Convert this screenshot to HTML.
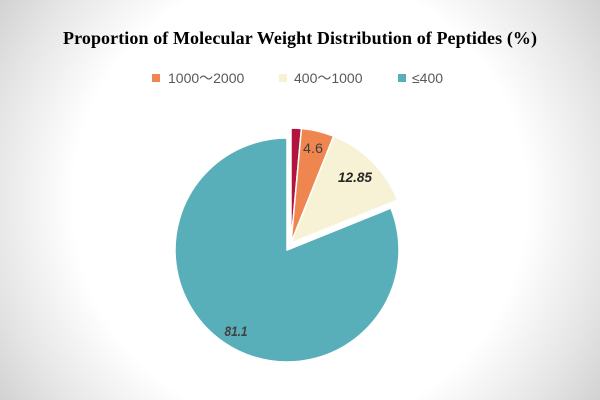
<!DOCTYPE html>
<html>
<head>
<meta charset="utf-8">
<style>
  html, body { margin: 0; padding: 0; }
  body {
    width: 600px; height: 400px; overflow: hidden;
    background: radial-gradient(circle farthest-corner at 50% 50%, #ffffff 0%, #ffffff 63%, #e6e6e6 85%, #d2d2d2 100%);
  }
  svg { display: block; }
</style>
</head>
<body>
<svg width="600" height="400" viewBox="0 0 600 400" xmlns="http://www.w3.org/2000/svg">
  <!-- Title -->
  <text x="300" y="44" text-anchor="middle" font-family="'Liberation Serif', 'Times New Roman', serif" font-weight="bold" font-size="18" fill="#000" textLength="474" lengthAdjust="spacing">Proportion of Molecular Weight Distribution of Peptides (%)</text>

  <!-- Legend -->
  <g font-family="'Liberation Sans', 'Noto Sans CJK SC', sans-serif" font-size="14" fill="#595959">
    <rect x="152" y="74" width="8" height="8" fill="#F0864F"/>
    <text x="168" y="83">1000～2000</text>
    <rect x="279" y="74" width="8" height="8" fill="#F7F1D5"/>
    <text x="294" y="83">400～1000</text>
    <rect x="398" y="74" width="8" height="8" fill="#59AFB9"/>
    <text x="412" y="83">≤400</text>
  </g>

  <!-- Teal slice (81.1) -->
  <path d="M287,250 L390.88,208.11 A112,112 0 1,1 287,138 Z" fill="#59AFB9" stroke="#ffffff" stroke-width="1.5" stroke-linejoin="round"/>

  <!-- Exploded small slices, center (291,243), r=115 -->
  <g stroke="#ffffff" stroke-width="1.5" stroke-linejoin="round">
    <!-- crimson 0° -> 5.22° -->
    <path d="M291,243 L291,128 A115,115 0 0,1 301.46,128.48 Z" fill="#B0143F"/>
    <!-- orange 5.22° -> 21.78° -->
    <path d="M291,243 L301.46,128.48 A115,115 0 0,1 333.67,136.21 Z" fill="#F0864F"/>
    <!-- cream 21.78° -> 68.04° -->
    <path d="M291,243 L333.67,136.21 A115,115 0 0,1 397.66,200.0 Z" fill="#F7F1D5"/>
  </g>

  <!-- Data labels -->
  <g font-family="'Liberation Sans', Arial, sans-serif" font-size="14" text-anchor="middle">
    <text x="313" y="153" fill="#404040" textLength="20" lengthAdjust="spacingAndGlyphs">4.6</text>
    <text x="355" y="182" fill="#262626" font-weight="bold" font-style="italic" textLength="34" lengthAdjust="spacingAndGlyphs">12.85</text>
    <text x="236" y="336" fill="#404040" font-weight="bold" font-style="italic" textLength="23" lengthAdjust="spacingAndGlyphs">81.1</text>
  </g>
</svg>
</body>
</html>
